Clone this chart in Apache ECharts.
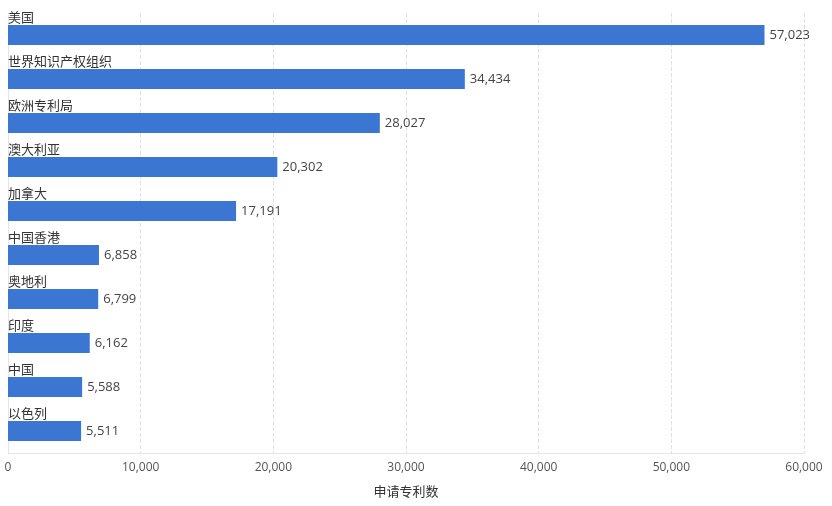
<!DOCTYPE html>
<html><head><meta charset="utf-8">
<script src="https://cdn.jsdelivr.net/npm/echarts@6/dist/echarts.min.js"></script>
<style>html,body{margin:0;padding:0;background:#fff}#c{width:832px;height:506px}</style>
</head><body><div id="c"></div>
<script>
const categories = ['美国','世界知识产权组织','欧洲专利局','澳大利亚','加拿大','中国香港','奥地利','印度','中国','以色列'];
const values = [57023, 34434, 28027, 20302, 17191, 6858, 6799, 6162, 5588, 5511];
const axisName = '申请专利数';
const cjk = '"Noto Sans CJK SC", sans-serif';
const num = '"Open Sans", "Noto Sans CJK SC", sans-serif';
const chart = echarts.init(document.getElementById('c'));
chart.setOption({
  animation: false,
  textStyle: { fontFamily: cjk },
  grid: { left: 8, right: 28, top: 13, bottom: 53, containLabel: false },
  xAxis: {
    type: 'value', min: 0, max: 60000, interval: 10000,
    name: axisName, nameLocation: 'middle', nameGap: 32,
    nameTextStyle: { color: '#333', fontSize: 13, fontFamily: cjk },
    axisLine: { show: true, lineStyle: { color: '#e0e6f1' } },
    axisTick: { show: false },
    axisLabel: { color: '#555', fontSize: 12, fontFamily: num, margin: 9,
      formatter: v => v.toLocaleString('en-US') },
    splitLine: { show: true, lineStyle: { type: 'dashed', color: '#e0e0e0' } }
  },
  yAxis: {
    type: 'category', data: categories, inverse: true,
    axisLine: { show: true, lineStyle: { color: '#e0e6f1' } },
    axisTick: { show: false },
    axisLabel: { inside: true, margin: 0, align: 'left', verticalAlign: 'bottom',
      padding: [0, 0, 11, 0], color: '#333', fontSize: 13, fontFamily: cjk }
  },
  series: [{
    type: 'bar', data: values, barWidth: 20,
    itemStyle: { color: '#3a76d2' },
    label: { show: true, position: 'right', distance: 5, color: '#444', fontSize: 13,
      fontFamily: num, formatter: p => p.value.toLocaleString('en-US') }
  }]
});
</script></body></html>
